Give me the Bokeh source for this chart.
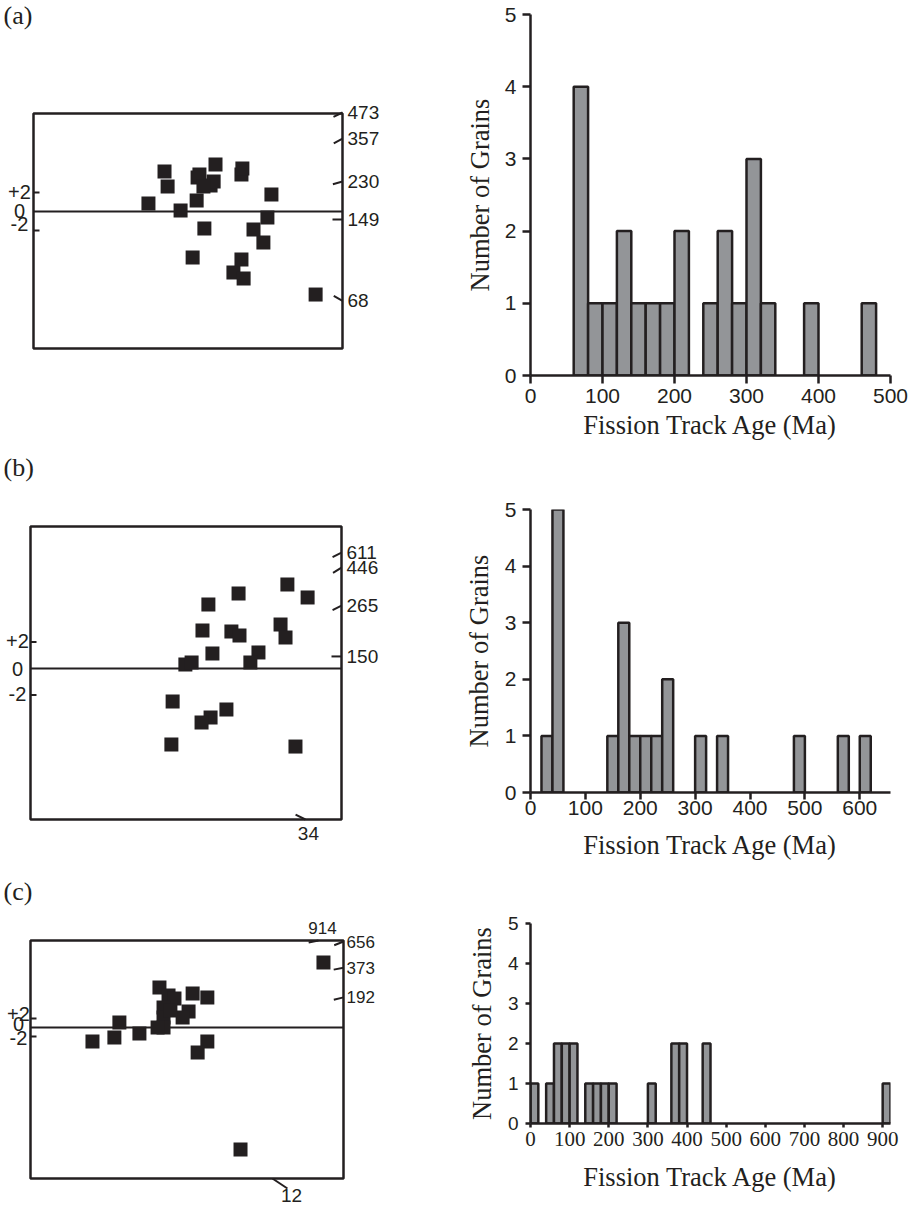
import math
from bokeh.plotting import figure
from bokeh.layouts import row, column
from bokeh.models import Range1d, FixedTicker, BoxAnnotation
from bokeh.core.properties import value
from bokeh.embed import file_html
from bokeh.resources import INLINE

# ------------------------------------------------------------------
# DATA
# Radial plots: x = relative precision (0..10 across the plot box),
#               z = standardised estimate
# ------------------------------------------------------------------
a_prec = [3.72, 4.24, 4.34, 4.76, 5.15, 5.28, 5.31, 5.37, 5.53, 5.73, 5.83, 5.89,
          6.47, 6.73, 6.76, 6.73, 6.80, 7.12, 7.44, 7.57, 7.70, 9.13, 5.50]
a_z = [0.84, 4.21, 2.63, 0.11, -4.84, 1.16, 3.58, 3.89, -1.79, 2.74, 3.16, 4.95,
       -6.42, 3.89, 4.53, -5.05, -7.05, -1.89, -3.26, -0.63, 1.79, -8.74, 2.63]
a_age_labels = ["473", "357", "230", "149", "68"]
a_age_z = [10.42, 7.68, 3.16, -0.84, -9.4]

b_prec = [5.72, 6.69, 8.26, 8.91, 5.53, 6.46, 6.72, 8.04, 8.20, 5.85, 7.33, 7.07,
          4.98, 5.18, 4.57, 6.30, 5.79, 5.50, 4.53, 8.52]
b_z = [4.83, 5.66, 6.34, 5.36, 2.87, 2.79, 2.49, 3.32, 2.34, 1.13, 1.21, 0.45,
       0.30, 0.45, -2.49, -3.09, -3.70, -4.08, -5.74, -5.89]
b_age_labels = ["611", "446", "265", "150"]
b_age_z = [8.75, 7.62, 4.75, 0.91]
b_edge_labels = ["34"]
b_edge_x = [8.84]

c_prec = [9.36, 4.12, 4.41, 4.60, 5.18, 5.65, 5.05, 4.86, 4.25, 4.25, 4.25, 4.06,
          2.84, 2.68, 3.48, 1.98, 5.65, 5.34, 6.71, 4.47]
c_z = [14.44, 8.89, 7.11, 6.44, 7.56, 6.67, 3.56, 2.22, 4.44, 2.22, 0.0, 0.0,
       1.11, -2.22, -1.33, -3.11, -3.11, -5.56, -27.11, 3.78]
c_age_labels = ["656", "373", "192"]
c_age_z = [19.1, 13.3, 6.7]
c_edge_labels = ["914", "12"]
c_edge_x = [9.2, 7.73]

z_ticks = [2, 0, -2]
z_tick_labels = ["+2", "0", "-2"]

# Histograms: 20 Ma bins, left edges and counts
BIN = 20
hist_a_left = [60, 80, 100, 120, 140, 160, 180, 200, 240, 260, 280, 300, 320, 380, 460]
hist_a_count = [4, 1, 1, 2, 1, 1, 1, 2, 1, 2, 1, 3, 1, 1, 1]
hist_b_left = [20, 40, 140, 160, 180, 200, 220, 240, 300, 340, 480, 560, 600]
hist_b_count = [1, 5, 1, 3, 1, 1, 1, 2, 1, 1, 1, 1, 1]
hist_c_left = [0, 40, 60, 80, 100, 140, 160, 180, 200, 300, 360, 380, 440, 900]
hist_c_count = [1, 1, 2, 2, 2, 1, 1, 1, 1, 1, 2, 2, 2, 1]

x_ticks_a = [0, 100, 200, 300, 400, 500]
x_ticks_b = [0, 100, 200, 300, 400, 500, 600]
x_ticks_c = [0, 100, 200, 300, 400, 500, 600, 700, 800, 900]
y_ticks = [0, 1, 2, 3, 4, 5]

# ------------------------------------------------------------------
# STYLE / LAYOUT
# ------------------------------------------------------------------
INK = "#231f20"
BAR = "#939598"
SANS = "Liberation Sans"
NARROW = "Liberation Sans Narrow"
SERIF = "Liberation Serif"

LEFT_W = 440
HIST_W = 473


def make_radial(canvas_top, canvas_h, box, zero_py, z_px, prec, zs, panel_label,
                panel_py, age_labels, age_z, age_angles, age_font, age_gap,
                zlab_shift, zlab_dx, edge=None):
    bl, br, bt, bb = box
    x_px = (br - bl) / 10.0
    x0 = (0 - bl) / x_px
    x1 = (LEFT_W - bl) / x_px
    ztop = (zero_py - canvas_top) / z_px
    zbot = (zero_py - (canvas_top + canvas_h)) / z_px
    p = figure(width=LEFT_W, height=canvas_h, x_range=Range1d(x0, x1),
               y_range=Range1d(zbot, ztop), output_backend="svg",
               toolbar_location=None, x_axis_location=None, y_axis_location=None,
               min_border=0, outline_line_color=None)
    p.grid.visible = False
    p.background_fill_color = "white"
    p.border_fill_color = "white"

    def dx(px):
        return px / x_px

    def dz(px):
        return px / z_px

    zt = (zero_py - bt) / z_px
    zb = (zero_py - bb) / z_px
    # plot box
    p.add_layout(BoxAnnotation(left=0, right=10, top=zt, bottom=zb, fill_alpha=0,
                               fill_color=None, line_color=INK, line_alpha=1.0,
                               line_width=2.5))
    # zero line and +-2 ticks
    p.segment(x0=[0], y0=[0], x1=[10], y1=[0], line_color=INK, line_width=2)
    p.segment(x0=[0, 0], y0=[2, -2], x1=[dx(6), dx(6)], y1=[2, -2],
              line_color=INK, line_width=2)
    p.text(x=[-dx(zlab_dx)] * 3, y=[v - dz(s) for v, s in zip(z_ticks, zlab_shift)],
           text=z_tick_labels, text_align="center",
           text_baseline="middle", text_font=value(SANS), text_font_size="20px",
           text_color=INK)
    # data points
    p.scatter(prec, zs, marker="square", size=14, fill_color=INK, line_color=INK,
              line_width=0)
    # age scale on the right edge
    p.ray(x=[10] * len(age_z), y=age_z, length=10, length_units="screen",
          angle=[180 + a for a in age_angles], angle_units="deg",
          line_color=INK, line_width=2)
    p.text(x=[10 + dx(age_gap)] * len(age_z), y=age_z, text=age_labels,
           text_align="left", text_baseline="middle", text_font=value(SANS),
           text_font_size=age_font, text_color=INK)
    # ages where the arc crosses the top / bottom edge
    if edge:
        for lab, ex, side, ang, ln, ox, oy, fs in edge:
            ez = zt if side == "top" else zb
            p.ray(x=[ex], y=[ez], length=ln, length_units="screen", angle=[ang],
                  angle_units="deg", line_color=INK, line_width=2)
            p.text(x=[ex + dx(ox)], y=[ez - dz(oy)], text=[lab], text_align="center",
                   text_baseline="middle", text_font=value(SANS),
                   text_font_size=fs, text_color=INK)
    # panel label
    p.text(x=[dx(3 - bl)], y=[(zero_py - panel_py) / z_px], text=[panel_label],
           text_align="left", text_baseline="middle", text_font=value(SERIF),
           text_font_size="26px", text_color=INK)
    return p


def make_hist(canvas_h, top_off, frame_h, left_off, frame_w, x_end, xticks, lefts,
              counts, xtick_font, xtick_size, ytick_size, x_tick_out, x_std,
              x_title_std, y_tick_out, y_std, y_title_std):
    p = figure(width=HIST_W, height=canvas_h, x_range=Range1d(0, x_end),
               y_range=Range1d(0, 5), output_backend="svg", toolbar_location=None,
               min_border_left=left_off,
               min_border_right=HIST_W - left_off - frame_w,
               min_border_top=top_off,
               min_border_bottom=canvas_h - top_off - frame_h,
               outline_line_color=None)
    p.grid.visible = False
    p.background_fill_color = "white"
    p.border_fill_color = "white"
    p.quad(left=lefts, right=[l + BIN for l in lefts], bottom=[0] * len(lefts),
           top=counts, fill_color=BAR, line_color=INK, line_width=2.5)
    for ax in (p.xaxis[0], p.yaxis[0]):
        ax.axis_line_color = INK
        ax.axis_line_width = 2.5
        ax.major_tick_line_color = INK
        ax.major_tick_line_width = 2.5
        ax.minor_tick_line_color = None
        ax.major_tick_in = 0
        ax.major_label_text_color = INK
        ax.axis_label_text_color = INK
        ax.axis_label_text_font = SERIF
        ax.axis_label_text_font_style = "normal"
        ax.axis_label_text_font_size = "26.5px"
    xa = p.xaxis[0]
    xa.ticker = FixedTicker(ticks=xticks)
    xa.major_tick_out = x_tick_out
    xa.major_label_standoff = x_std
    xa.major_label_text_font = xtick_font
    xa.major_label_text_font_size = xtick_size
    xa.axis_label = "Fission Track Age (Ma)"
    xa.axis_label_standoff = x_title_std
    ya = p.yaxis[0]
    ya.ticker = FixedTicker(ticks=y_ticks)
    ya.major_tick_out = y_tick_out
    ya.major_label_standoff = y_std
    ya.major_label_text_font = SANS
    ya.major_label_text_font_size = ytick_size
    ya.axis_label = "Number of Grains"
    ya.axis_label_standoff = y_title_std
    return p


# ---- panel (a) ----
ra = make_radial(0, 450, (33, 342, 113, 348), 211, 9.5, a_prec, a_z, "(a)", 15,
                 a_age_labels, a_age_z, [25.6, 29, 15.6, 0, -29], "19px", 5,
                 [-1, -1, -7], 14)
ha = make_hist(450, 14, 361, 90, 360, 500, x_ticks_a, hist_a_left, hist_a_count,
               SANS, "21px", "21px", 8, 5, 4, 8, 6, 7)

# ---- panel (b) ----
b_edge = [(b_edge_labels[0], b_edge_x[0], "bottom", 153.4, 11, 3, 14, "19px")]
rb = make_radial(450, 415, (30, 341, 526, 819), 668, 13.25, b_prec, b_z, "(b)", 467,
                 b_age_labels, b_age_z, [26.6, 32, 26.6, 0], "19px", 5,
                 [-1, 0, -1], 13, edge=b_edge)
hb = make_hist(415, 59, 283, 90, 369, 656, x_ticks_b, hist_b_left, hist_b_count,
               SANS, "21px", "21px", 7, 1, 12, 8, 6, 8)

# ---- panel (c) ----
c_edge = [(c_edge_labels[0], c_edge_x[0], "top", 191.3, 10, 4, -13, "17px"),
          (c_edge_labels[1], c_edge_x[1], "bottom", -33.7, 18, 19, 17, "19px")]
rc = make_radial(865, 342, (30, 343, 940, 1178), 1027, 4.5, c_prec, c_z, "(c)", 891,
                 c_age_labels, c_age_z, [21.8, 11.3, 14], "17px", 3,
                 [-5, -4, 1], 12, edge=c_edge)
hc = make_hist(342, 58, 200, 90, 366, 920, x_ticks_c, hist_c_left, hist_c_count,
               NARROW, "21px", "19px", 4, 4, 13, 5, 7, 8)

layout = row(column(ra, rb, rc, spacing=0), column(ha, hb, hc, spacing=0), spacing=0)

open("out.html", "w").write(file_html(layout, INLINE))
